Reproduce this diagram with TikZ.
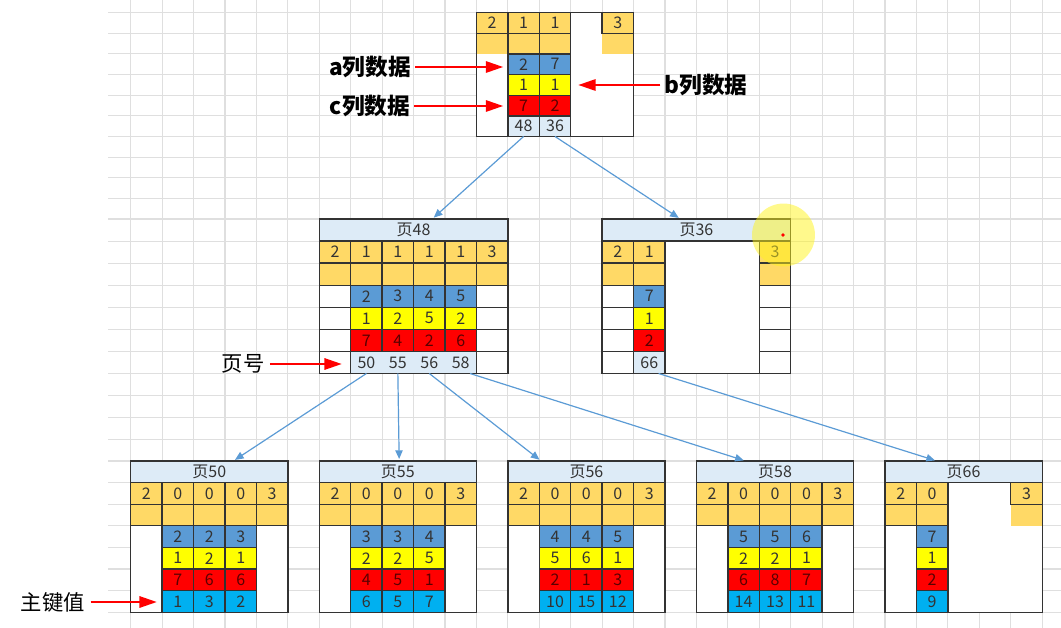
\documentclass[tikz,border=0pt]{standalone}
\usepackage{fontspec}
\setmainfont{Noto Sans CJK SC}
\usetikzlibrary{positioning, arrows.meta}
\usepackage{xcolor}

\definecolor{headblue}{HTML}{DDEBF7}
\definecolor{recorange}{HTML}{FFD966}
\definecolor{colblue}{HTML}{5B9BD5}
\definecolor{colyellow}{HTML}{FFFF00}
\definecolor{colred}{HTML}{FF0000}
\definecolor{keyblue}{HTML}{00B0F0}
\definecolor{linkblue}{HTML}{5B9BD5}

% one row of cells: name, first column, top edge, style, values
\newcommand{\cellrow}[5]{%
  \foreach \val [count=\k from 0] in {#5} {
    \node[#4] (#1\k) at ({130.7+31.43*(#2+\k)}, #3) {\val};
  }%
}

% leaf page: page number, first column, blue, yellow, red, key values
\newcommand{\leafpage}[6]{%
  \node[frame, minimum width=117.86pt, minimum height=113.4pt] (pg#1) at ({130.7+31.43*#2},461) {};
  \node[headcell, lowrow, minimum width=117.86pt] (p#1) at ({130.7+31.43*#2},461) {页#1};
  \cellrow{p#1h}{#2}{482.6}{reccell,lowrow}{2,0,0,0,3}
  \cellrow{p#1o}{#2}{504.2}{reccell,lowrow}{{},{},{},{},{}}
  \cellrow{p#1b}{#2+1}{525.8}{bluecell,lowrow}{#3}
  \cellrow{p#1y}{#2+1}{547.4}{yellowcell,lowrow}{#4}
  \cellrow{p#1c}{#2+1}{569}{redcell,lowrow}{#5}
  \cellrow{p#1k}{#2+1}{590.6}{keycell,lowrow}{#6}%
}

\begin{document}
\begin{tikzpicture}[x=0.75pt, y=-0.75pt]
    % Styles
    \tikzstyle{gridline} = [draw=gray!25, line width=0.8pt]
    \tikzstyle{cell} = [anchor=north west, inner sep=0pt, outer sep=0pt, minimum width=23.57pt, text=black!80, font=\fontsize{12}{12}\selectfont]
    \tikzstyle{boxed} = [cell, draw=black!80, line width=1pt]
    \tikzstyle{rootrow} = [minimum height=15.47pt]
    \tikzstyle{midrow} = [minimum height=16.55pt]
    \tikzstyle{lowrow} = [minimum height=16.2pt]
    \tikzstyle{frame} = [anchor=north west, inner sep=0pt, outer sep=0pt, fill=white]
    \tikzstyle{frameline} = [draw=black!80, line width=1pt]
    \tikzstyle{headcell} = [boxed, fill=headblue]
    \tikzstyle{reccell} = [boxed, fill=recorange]
    \tikzstyle{recfill} = [cell, fill=recorange]
    \tikzstyle{bluecell} = [boxed, fill=colblue]
    \tikzstyle{yellowcell} = [boxed, fill=colyellow]
    \tikzstyle{redcell} = [boxed, fill=colred, text=red!35!black]
    \tikzstyle{keycell} = [boxed, fill=keyblue]
    \tikzstyle{pagecell} = [cell, fill=headblue]
    \tikzstyle{pagebox} = [boxed, fill=headblue]
    \tikzstyle{whitecell} = [boxed, fill=white]
    \tikzstyle{link} = [draw=linkblue, line width=0.9pt, -{Triangle[length=6.5pt, width=5.5pt]}, shorten >=1.5pt]
    \tikzstyle{pointer} = [draw=red, line width=1.5pt, -{Triangle[length=13pt, width=8.5pt]}]
    \tikzstyle{note} = [font=\fontsize{17}{20}\selectfont\bfseries, inner sep=3pt]
    \tikzstyle{tag} = [font=\fontsize{16}{20}\selectfont, inner sep=4pt]

    \useasboundingbox (0,0) rectangle (1061,628);

    % Background grid
    \foreach \y in {12.7,33.33,53.96,74.59,95.22,115.85,136.48,157.11,177.74,198.37,219,241.07,263.14,285.21,307.28,329.35,351.42,373.49,395.56,417.63,439.7,461,482.6,504.2,525.8,547.4,569,590.6,612.2}
        \draw[gridline] (108,\y) -- (1061,\y);
    \foreach \c in {0,...,29}
        \draw[gridline] ({130.7+31.43*\c},0) -- ({130.7+31.43*\c},628);

    % Root page
    \node[frame, minimum width=117.86pt, minimum height=92.84pt] (root) at (476.43,12.7) {};
    \node[recfill,rootrow] (rf0) at (476.43,33.33) {};
    \node[recfill,rootrow] (rf1) at (602.15,33.33) {};
    \cellrow{rh}{11}{12.7}{reccell,rootrow}{2,1,1}
    \node[reccell,rootrow] (rh3) at (602.15,12.7) {3};
    \cellrow{rs}{12}{33.33}{reccell,rootrow}{{},{}}
    \cellrow{rb}{12}{53.96}{bluecell,rootrow}{2,7}
    \cellrow{ry}{12}{74.59}{yellowcell,rootrow}{1,1}
    \cellrow{rr}{12}{95.22}{redcell,rootrow}{7,2}
    \cellrow{rn}{12}{115.85}{pagebox,rootrow}{48,36}

    % Page 48
    \node[frame, minimum width=141.44pt, minimum height=115.87pt] (pg48) at (319.28,219) {};
    \node[headcell, midrow, minimum width=141.44pt] (p48) at (319.28,219) {页48};
    \cellrow{p48n}{7}{351.42}{pagecell,midrow}{50,55,56,58}
    \cellrow{p48h}{6}{241.07}{reccell,midrow}{2,1,1,1,1,3}
    \cellrow{p48o}{6}{263.14}{reccell,midrow}{{},{},{},{},{},{}}
    \foreach \y [count=\i] in {285.21,307.28,329.35,351.42} {
        \node[whitecell,midrow] (p48l\i) at (319.28,\y) {};
        \node[whitecell,midrow] (p48r\i) at (476.43,\y) {};
    }
    \cellrow{p48b}{7}{285.21}{bluecell,midrow}{2,3,4,5}
    \cellrow{p48y}{7}{307.28}{yellowcell,midrow}{1,2,5,2}
    \cellrow{p48c}{7}{329.35}{redcell,midrow}{7,4,2,6}

    % Page 36
    \node[frame, minimum width=141.44pt, minimum height=115.87pt] (pg36) at (602.15,219) {};
    \node[headcell, midrow, minimum width=141.44pt] (p36) at (602.15,219) {页36};
    \cellrow{p36h}{15}{241.07}{reccell,midrow}{2,1}
    \node[reccell,midrow] (p36h2) at (759.3,241.07) {3};
    \cellrow{p36o}{15}{263.14}{reccell,midrow}{{},{}}
    \node[reccell,midrow] (p36o2) at (759.3,263.14) {};
    \foreach \y [count=\i] in {285.21,307.28,329.35,351.42} {
        \node[whitecell,midrow] (p36l\i) at (602.15,\y) {};
        \node[whitecell,midrow] (p36r\i) at (759.3,\y) {};
    }
    \node[bluecell,midrow] (p36b0) at (633.58,285.21) {7};
    \node[yellowcell,midrow] (p36y0) at (633.58,307.28) {1};
    \node[redcell,midrow] (p36c0) at (633.58,329.35) {2};
    \node[pagebox,midrow] (p36n0) at (633.58,351.42) {66};

    % Leaf pages
    \leafpage{50}{0}{2,2,3}{1,2,1}{7,6,6}{1,3,2}
    \leafpage{55}{6}{3,3,4}{2,2,5}{4,5,1}{6,5,7}
    \leafpage{56}{12}{4,4,5}{5,6,1}{2,1,3}{10,15,12}
    \leafpage{58}{18}{5,5,6}{2,2,1}{6,8,7}{14,13,11}
    \node[frame, minimum width=117.86pt, minimum height=113.4pt] (pg66) at (885.02,461) {};
    \node[headcell, lowrow, minimum width=117.86pt] (p66) at (885.02,461) {页66};
    \node[recfill,lowrow] (p66f0) at (1010.74,504.2) {};
    \cellrow{p66h}{24}{482.6}{reccell,lowrow}{2,0}
    \node[reccell,lowrow] (p66h2) at (1010.74,482.6) {3};
    \cellrow{p66o}{24}{504.2}{reccell,lowrow}{{},{}}
    \node[bluecell,lowrow] (p66b0) at (916.45,525.8) {7};
    \node[yellowcell,lowrow] (p66y0) at (916.45,547.4) {1};
    \node[redcell,lowrow] (p66c0) at (916.45,569) {2};
    \node[keycell,lowrow] (p66k0) at (916.45,590.6) {9};

    \foreach \pg in {root,pg48,pg36,pg50,pg55,pg56,pg58,pg66}
        \draw[frameline] (\pg.north west) rectangle (\pg.south east);

    % Cursor highlight
    \fill[yellow!90, opacity=0.5] (783.5,235) circle [radius=23.6pt];
    \fill[red] (783,235) circle [radius=1.4pt];

    % Labels
    \node[note] (acol) at (370,67) {a列数据};
    \node[note] (ccol) at (370,106) {c列数据};
    \node[note] (bcol) at (706,85) {b列数据};
    \node[tag] (pageno) at (243,364) {页号};
    \node[tag] (pkey) at (53,602) {主键值};

    % Paths
    \draw[link] (rn0.south) -- ([xshift=14pt]p48.north);
    \draw[link] (rn1.south) -- ([xshift=-12pt]p36.north);
    \draw[link] (p48n0.south) -- ([xshift=18pt]p50.north);
    \draw[link] (p48n1.south) -- ([xshift=1pt]p55.north);
    \draw[link] (p48n2.south) -- ([xshift=-34pt]p56.north);
    \draw[link] ([xshift=7pt]p48n3.south) -- ([xshift=-22pt]p58.north);
    \draw[link] ([xshift=7pt]p36n0.south) -- ([xshift=-20pt]p66.north);

    \draw[pointer, shorten >=3.5pt] (acol) -- (acol -| rb0.west);
    \draw[pointer, shorten >=3.5pt] (ccol) -- (ccol -| rr0.west);
    \draw[pointer, shorten >=5.7pt] (bcol) -- (bcol -| ry1.east);
    \draw[pointer, shorten >=6.7pt] (pageno) -- (pageno -| p48n0.west);
    \draw[pointer, shorten >=4pt] (pkey) -- (pkey -| p50k0.west);

\end{tikzpicture}
\end{document}
